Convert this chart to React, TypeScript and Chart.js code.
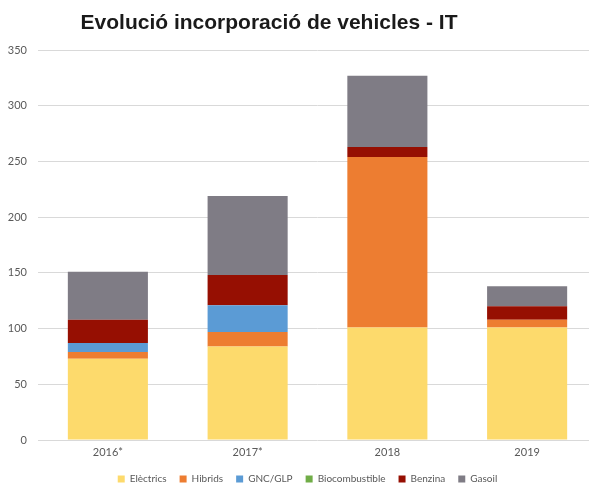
import React, { useEffect, useRef } from "react";
import { Chart, registerables } from "chart.js";

Chart.register(...registerables);

const TITLE = "Evolució incorporació de vehicles - IT";
const categories = ["2016*", "2017*", "2018", "2019"];
const electrics = [73, 84, 101, 101];
const hibrids = [6, 13, 153, 7];
const gncGlp = [8, 24, 0, 0];
const biocombustible = [0, 0, 0, 0];
const benzina = [21, 27, 9, 12];
const gasoil = [43, 71, 64, 18];
const yTicks = [0, 50, 100, 150, 200, 250, 300, 350];

const titlePlugin = {
  id: "customTitle",
  afterLayout(chart: any) {
    if (chart.legend) {
      chart.legend.left -= 10;
      chart.legend.right -= 10;
    }
  },
  afterDraw(chart: any) {
    const ctx = chart.ctx;
    ctx.save();
    ctx.font = "bold 21px 'Liberation Sans', Arial, sans-serif";
    ctx.fillStyle = "#1a1a1a";
    ctx.textAlign = "center";
    ctx.textBaseline = "middle";
    ctx.fillText(TITLE, 269, 23);
    ctx.restore();
  },
};

export default function App() {
  const ref = useRef<HTMLCanvasElement | null>(null);
  useEffect(() => {
    if (!ref.current) return;
    const mk = (label: string, data: number[], color: string) => ({
      label,
      data,
      backgroundColor: color,
      borderWidth: 0,
      categoryPercentage: 1,
      barPercentage: 0.573,
    });
    const chart = new Chart(ref.current, {
      type: "bar",
      data: {
        labels: categories,
        datasets: [
          mk("Elèctrics", electrics, "#FDDA6C"),
          mk("Hibrids", hibrids, "#ED7D31"),
          mk("GNC/GLP", gncGlp, "#5B9BD5"),
          mk("Biocombustible", biocombustible, "#70AD47"),
          mk("Benzina", benzina, "#960F02"),
          mk("Gasoil", gasoil, "#7F7C85"),
        ],
      },
      options: {
        responsive: false,
        animation: false,
        layout: { padding: { top: 50, right: 3, bottom: -9, left: 0 } },
        plugins: {
          title: { display: false },
          tooltip: { enabled: false },
          legend: {
            position: "bottom",
            fullSize: false,
            labels: {
              boxWidth: 7,
              boxHeight: 7,
              padding: 13,
              color: "#595959",
              font: { family: "Lato, 'Open Sans', sans-serif", size: 10 },
            },
          },
        },
        scales: {
          x: {
            stacked: true,
            grid: { display: false },
            border: { display: false },
            ticks: {
              color: "#595959",
              padding: -2,
              font: { family: "Lato, 'Open Sans', sans-serif", size: 11 },
            },
            afterFit: (s: any) => {
              s.height = 21;
            },
          },
          y: {
            stacked: true,
            min: 0,
            max: 350,
            afterBuildTicks: (s: any) => {
              s.ticks = yTicks.map((v) => ({ value: v }));
            },
            grid: { color: "#d9d9d9", drawTicks: false, lineWidth: 1 },
            border: { display: false },
            ticks: {
              color: "#595959",
              padding: 11,
              font: { family: "Lato, 'Open Sans', sans-serif", size: 11 },
            },
            afterFit: (s: any) => {
              s.width = 38;
            },
          },
        },
      },
      plugins: [titlePlugin],
    });
    return () => chart.destroy();
  }, []);
  return (
    <div
      style={{
        position: "fixed",
        left: 0,
        top: 0,
        width: 589,
        height: 485,
        overflow: "hidden",
        background: "#fff",
      }}
    >
      <canvas ref={ref} width={600} height={485} style={{ display: "block" }} />
    </div>
  );
}
